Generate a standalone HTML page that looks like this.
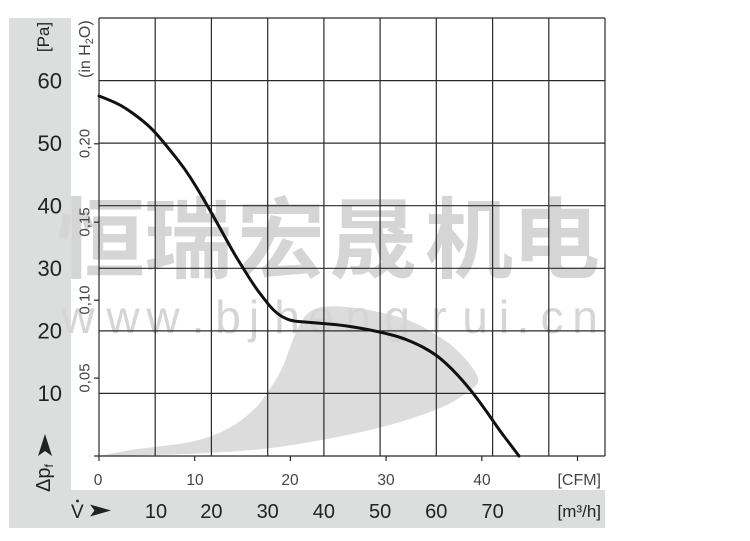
<!DOCTYPE html>
<html>
<head>
<meta charset="utf-8">
<style>
  html,body{margin:0;padding:0;background:#fff;}
  svg{display:block;}
  text{font-family:"Liberation Sans","Noto Sans CJK SC",sans-serif;}
</style>
</head>
<body>
<svg width="750" height="541" viewBox="0 0 750 541" xmlns="http://www.w3.org/2000/svg">
  <rect x="0" y="0" width="750" height="541" fill="#fff"/>
  <!-- gray L panels -->
  <rect x="9" y="18" width="62" height="510" fill="#dcdddd"/>
  <rect x="9" y="490" width="596" height="38" fill="#dcdddd"/>

  <!-- shaded operating region -->
  <path fill="#dcdcdc" d="M99,456 Q128,450 141.5,448.5 Q155,447 175,444.5 Q195,442 211.5,436 Q228,430 241.5,420 Q255,410 261.5,401 Q268,392 275,381 Q282,370 286,358.5 Q290,347 294,337 Q298,327 302,320.5 Q306,314 311,311 Q316,308 323,307 Q330,306 340,306.5 Q350,307 362.5,309 Q375,311 387.5,314 Q400,317 410,321 Q420,325 426.5,329 Q433,333 440.5,337.5 Q448,342 454,347.5 Q460,353 465,358.5 Q470,364 473,368.5 Q476,373 477.5,376.5 Q479,380 477.5,383 Q476,386 471.5,389.5 Q467,393 458.5,398.5 Q450,404 435,410 Q420,416 400,422 Q380,428 352,434 Q324,440 296,444.5 Q268,449 240,451 Q212,453 186,454 Q160,455 130,455.5 L99,456 Z"/>

  <!-- watermark -->
  <g fill="#d5d5d5" font-weight="bold" font-size="88" text-anchor="middle">
    <text x="101" y="271" style="font-family:'Noto Sans CJK SC','WenQuanYi Zen Hei',sans-serif">恒</text>
    <text x="188" y="271" style="font-family:'Noto Sans CJK SC','WenQuanYi Zen Hei',sans-serif">瑞</text>
    <text x="281" y="271" style="font-family:'Noto Sans CJK SC','WenQuanYi Zen Hei',sans-serif">宏</text>
    <text x="373" y="271" style="font-family:'Noto Sans CJK SC','WenQuanYi Zen Hei',sans-serif">晟</text>
    <text x="469" y="271" style="font-family:'Noto Sans CJK SC','WenQuanYi Zen Hei',sans-serif">机</text>
    <text x="556" y="271" style="font-family:'Noto Sans CJK SC','WenQuanYi Zen Hei',sans-serif">电</text>
  </g>
  <g fill="#d5d5d5" font-size="46" text-anchor="middle">
    <text x="78" y="333">w</text>
    <text x="123" y="333">w</text>
    <text x="163" y="333">w</text>
    <text x="198" y="333">.</text>
    <text x="228" y="333">b</text>
    <text x="254" y="333">j</text>
    <text x="287" y="333">h</text>
    <text x="321" y="333">e</text>
    <text x="358" y="333">n</text>
    <text x="397" y="333">g</text>
    <text x="439" y="333">r</text>
    <text x="475" y="333">u</text>
    <text x="504" y="333">i</text>
    <text x="523" y="333">.</text>
    <text x="552" y="333">c</text>
    <text x="585" y="333">n</text>
  </g>

  <!-- grid -->
  <g stroke="#2a2a2a" stroke-width="1.2" fill="none">
    <line x1="99" y1="18" x2="605" y2="18"/>
    <line x1="99" y1="80.6" x2="605" y2="80.6"/>
    <line x1="99" y1="143.1" x2="605" y2="143.1"/>
    <line x1="99" y1="205.7" x2="605" y2="205.7"/>
    <line x1="99" y1="268.3" x2="605" y2="268.3"/>
    <line x1="99" y1="330.9" x2="605" y2="330.9"/>
    <line x1="99" y1="393.4" x2="605" y2="393.4"/>
    <line x1="94" y1="456" x2="605" y2="456"/>

    <line x1="99" y1="18" x2="99" y2="456"/>
    <line x1="155.2" y1="18" x2="155.2" y2="456"/>
    <line x1="211.4" y1="18" x2="211.4" y2="456"/>
    <line x1="267.7" y1="18" x2="267.7" y2="456"/>
    <line x1="323.9" y1="18" x2="323.9" y2="456"/>
    <line x1="380.1" y1="18" x2="380.1" y2="456"/>
    <line x1="436.3" y1="18" x2="436.3" y2="456"/>
    <line x1="492.6" y1="18" x2="492.6" y2="456"/>
    <line x1="548.8" y1="18" x2="548.8" y2="456"/>
    <line x1="605" y1="18" x2="605" y2="456"/>

    <!-- inch ticks -->
    <line x1="94" y1="143.8" x2="99" y2="143.8"/>
    <line x1="94" y1="222.2" x2="99" y2="222.2"/>
    <line x1="94" y1="300.2" x2="99" y2="300.2"/>
    <line x1="94" y1="378.1" x2="99" y2="378.1"/>
    <!-- CFM ticks -->
    <line x1="99" y1="456" x2="99" y2="461"/>
    <line x1="194.7" y1="456" x2="194.7" y2="461"/>
    <line x1="290.4" y1="456" x2="290.4" y2="461"/>
    <line x1="386.1" y1="456" x2="386.1" y2="461"/>
    <line x1="481.8" y1="456" x2="481.8" y2="461"/>
    <line x1="577.5" y1="456" x2="577.5" y2="461"/>
  </g>

  <!-- curve -->
  <path fill="none" stroke="#111" stroke-width="3" stroke-linecap="round"
    d="M99,96 Q115,102 122.5,106.5 Q130,111 137.5,116.75 Q145,122.5 150,127.25 Q155,132 162.5,141 Q170,150 177.5,159.5 Q185,169 191,178.5 Q197,188 202,196.5 Q207,205 213.5,216.5 Q220,228 226,239 Q232,250 237.5,259 Q243,268 249,277.5 Q255,287 260,293.5 Q265,300 269,305 Q273,310 277.5,313.5 Q282,317 287,319 Q292,321 298.5,321.5 Q305,322 314,322.75 Q323,323.5 331.5,324.25 Q340,325 350,326.5 Q360,328 370,330 Q380,332 390,334.5 Q400,337 408.5,340.5 Q417,344 423.5,347.5 Q430,351 435,354.5 Q440,358 446,363.5 Q452,369 457.5,375 Q463,381 468,387 Q473,393 480,402.5 Q487,412 493.5,421.5 Q500,431 505,437.5 Q510,444 519,456"/>

  <!-- Pa labels -->
  <g font-size="22" fill="#222" text-anchor="end">
    <text x="62" y="88.5">60</text>
    <text x="62" y="151">50</text>
    <text x="62" y="213.5">40</text>
    <text x="62" y="276">30</text>
    <text x="62" y="338.5">20</text>
    <text x="62" y="401">10</text>
  </g>
  <text transform="translate(49,37) rotate(-90)" text-anchor="middle" font-size="17" fill="#222">[Pa]</text>

  <!-- inch labels -->
  <g font-size="15" fill="#444" text-anchor="middle">
    <text transform="translate(89.5,143.5) rotate(-90)">0,20</text>
    <text transform="translate(89.5,222) rotate(-90)">0,15</text>
    <text transform="translate(89.5,300) rotate(-90)">0,10</text>
    <text transform="translate(89.5,378) rotate(-90)">0,05</text>
  </g>
  <text transform="translate(90,78) rotate(-90)" font-size="16" fill="#444">(in H<tspan font-size="11" dy="3">2</tspan><tspan dy="-3">O)</tspan></text>

  <!-- delta p label -->
  <text transform="translate(50,492) rotate(-90)" font-size="20" fill="#222">Δp<tspan font-size="12" dy="3">f</tspan></text>
  <polygon fill="#222" points="45,434 52,456 45,451 38,456"/>

  <!-- CFM labels -->
  <g font-size="15.5" fill="#444" text-anchor="middle">
    <text x="98" y="485">0</text>
    <text x="195" y="485">10</text>
    <text x="290" y="485">20</text>
    <text x="386" y="485">30</text>
    <text x="482" y="485">40</text>
  </g>
  <text x="601" y="485" font-size="16" fill="#444" text-anchor="end">[CFM]</text>

  <!-- m3/h labels -->
  <text x="71" y="518" font-size="19" fill="#222">V</text>
  <circle cx="77.5" cy="501" r="1.4" fill="#222"/>
  <polygon fill="#222" points="90,504.5 111,510.5 90,516.5 94.5,510.5"/>
  <g font-size="20" fill="#222" text-anchor="middle">
    <text x="156" y="518">10</text>
    <text x="211.4" y="518">20</text>
    <text x="267.7" y="518">30</text>
    <text x="323.9" y="518">40</text>
    <text x="380.1" y="518">50</text>
    <text x="436.3" y="518">60</text>
    <text x="492.6" y="518">70</text>
  </g>
  <text x="601" y="517" font-size="17" fill="#222" text-anchor="end">[m³/h]</text>
</svg>
</body>
</html>
